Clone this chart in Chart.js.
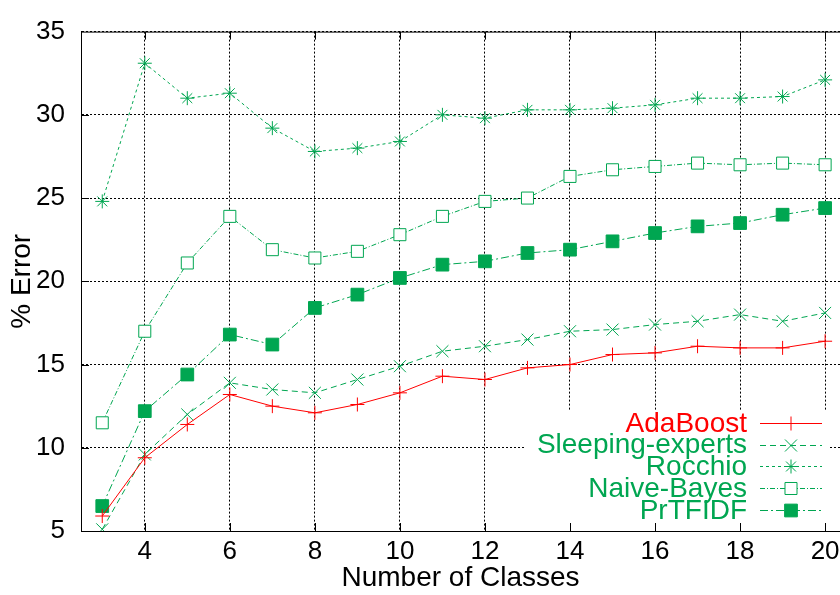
<!DOCTYPE html>
<html>
<head>
<meta charset="utf-8">
<script src="https://cdn.jsdelivr.net/npm/chart.js@4/dist/chart.umd.min.js"></script>
<style>
  html, body { margin: 0; padding: 0; background: #fff; }
  #wrap { position: relative; width: 840px; height: 595px; }
</style>
</head>
<body>
<div id="wrap"><canvas id="chart" width="840" height="595"></canvas></div>
<script>
// number of classes on the x axis
const classes = [3, 4, 5, 6, 7, 8, 9, 10, 11, 12, 13, 14, 15, 16, 17, 18, 19, 20];

// % error per method
const adaBoost = [5.9, 9.4, 11.4, 13.2, 12.5, 12.1, 12.6, 13.3, 14.3, 14.1, 14.8, 15.0, 15.6, 15.7, 16.1, 16.0, 16.0, 16.4];
const sleepingExperts = [5.1, 9.6, 12.0, 13.9, 13.5, 13.3, 14.1, 14.9, 15.8, 16.1, 16.5, 17.0, 17.1, 17.4, 17.6, 18.0, 17.6, 18.1];
const rocchio = [24.8, 33.1, 31.0, 31.3, 29.2, 27.8, 28.0, 28.4, 30.0, 29.8, 30.3, 30.3, 30.4, 30.6, 31.0, 31.0, 31.1, 32.1];
const naiveBayes = [11.5, 17.0, 21.1, 23.9, 21.9, 21.4, 21.8, 22.8, 23.9, 24.8, 25.0, 26.3, 26.7, 26.9, 27.1, 27.0, 27.1, 27.0];
const prTfidf = [6.5, 12.2, 14.4, 16.8, 16.2, 18.4, 19.2, 20.2, 21.0, 21.2, 21.7, 21.9, 22.4, 22.9, 23.3, 23.5, 24.0, 24.4];

const xTicks = [4, 6, 8, 10, 12, 14, 16, 18, 20];
const yTicks = [5, 10, 15, 20, 25, 30, 35];

const RED = '#ff0000';
const GREEN = 'rgb(0,166,81)';
const FONT = '"Liberation Sans", Arial, Helvetica, sans-serif';

const series = [
  { label: 'AdaBoost', data: adaBoost, color: RED, dash: [], style: 'cross', r: 7, fill: false },
  { label: 'Sleeping-experts', data: sleepingExperts, color: GREEN, dash: [6, 4], style: 'crossRot', r: 8.5, fill: false },
  { label: 'Rocchio', data: rocchio, color: GREEN, dash: [3, 3], style: 'star', r: 7, fill: false },
  { label: 'Naive-Bayes', data: naiveBayes, color: GREEN, dash: [5, 2, 1, 2], style: 'rect', r: 8.5, fill: false },
  { label: 'PrTFIDF', data: prTfidf, color: GREEN, dash: [8, 3, 2, 3], style: 'rect', r: 9, fill: true }
];

const datasets = series.map(s => ({
  label: s.label,
  data: classes.map((c, i) => ({ x: c, y: s.data[i] })),
  borderColor: s.color,
  borderWidth: 1,
  borderDash: s.dash,
  pointStyle: s.style,
  pointRadius: s.r,
  pointHoverRadius: s.r,
  pointBorderColor: s.color,
  pointBorderWidth: 1,
  pointBackgroundColor: s.fill ? s.color : '#fff',
  tension: 0
}));

function drawMarker(ctx, s, x, y) {
  ctx.save();
  ctx.setLineDash([]);
  ctx.strokeStyle = s.color;
  ctx.fillStyle = s.fill ? s.color : '#fff';
  ctx.lineWidth = 1;
  ctx.beginPath();
  if (s.style === 'rect') {
    const h = s.r * Math.SQRT1_2;
    ctx.rect(x - h, y - h, 2 * h, 2 * h);
    ctx.fill();
  } else {
    if (s.style === 'cross' || s.style === 'star') {
      ctx.moveTo(x - s.r, y); ctx.lineTo(x + s.r, y);
      ctx.moveTo(x, y - s.r); ctx.lineTo(x, y + s.r);
    }
    if (s.style === 'crossRot' || s.style === 'star') {
      const d = s.r * Math.SQRT1_2;
      ctx.moveTo(x - d, y - d); ctx.lineTo(x + d, y + d);
      ctx.moveTo(x - d, y + d); ctx.lineTo(x + d, y - d);
    }
  }
  ctx.stroke();
  ctx.restore();
}

// gnuplot-like frame: top border, inward tick marks, legend box
const framePlugin = {
  id: 'frame',
  beforeDatasetsDraw(chart) {
    const ctx = chart.ctx;
    ctx.save();
    ctx.fillStyle = '#fff';
    ctx.fillRect(524, 411, 305, 119);
    ctx.restore();
  },
  afterDraw(chart) {
    const { ctx, chartArea: a, scales: { x, y } } = chart;
    ctx.save();
    ctx.strokeStyle = '#000';
    ctx.lineWidth = 1;
    ctx.beginPath();
    ctx.moveTo(a.left, a.top + 0.5);
    ctx.lineTo(a.right, a.top + 0.5);
    xTicks.forEach(v => {
      const px = Math.round(x.getPixelForValue(v)) + 0.5;
      ctx.moveTo(px, a.bottom); ctx.lineTo(px, a.bottom - 8);
      ctx.moveTo(px, a.top); ctx.lineTo(px, a.top + 8);
    });
    yTicks.slice(1, -1).forEach(v => {
      const py = Math.round(y.getPixelForValue(v)) + 0.5;
      ctx.moveTo(a.left, py); ctx.lineTo(a.left + 8, py);
    });
    ctx.stroke();

    // legend
    ctx.font = '28px ' + FONT;
    ctx.textAlign = 'right';
    ctx.textBaseline = 'middle';
    series.forEach((s, i) => {
      const ry = 423 + i * 21.7;
      ctx.fillStyle = s.color;
      ctx.fillText(s.label, 747, ry + 1);
      ctx.strokeStyle = s.color;
      ctx.setLineDash(s.dash);
      ctx.beginPath();
      ctx.moveTo(760, Math.round(ry) + 0.5);
      ctx.lineTo(822, Math.round(ry) + 0.5);
      ctx.stroke();
      drawMarker(ctx, s, 791, Math.round(ry) + 0.5);
    });
    ctx.restore();
  }
};

new Chart(document.getElementById('chart'), {
  type: 'line',
  data: { datasets },
  options: {
    responsive: false,
    animation: false,
    layout: { autoPadding: false, padding: { top: 22, left: 0, right: 0, bottom: 0 } },
    plugins: { legend: { display: false }, tooltip: { enabled: false } },
    scales: {
      x: {
        type: 'linear',
        min: 2.5,
        max: 20.35,
        afterBuildTicks: scale => { scale.ticks = xTicks.map(v => ({ value: v })); },
        afterFit: scale => { scale.height = 64; scale.paddingLeft = 0; scale.paddingRight = 0; },
        grid: { color: '#000', lineWidth: 1, drawTicks: false },
        border: { display: true, color: '#000', width: 1, dash: [2, 2] },
        ticks: { color: '#000', padding: 5, maxRotation: 0, font: { family: FONT, size: 26 } },
        title: {
          display: true,
          text: 'Number of Classes',
          color: '#000',
          padding: { top: 0, bottom: 3 },
          font: { family: FONT, size: 28, lineHeight: 1 }
        }
      },
      y: {
        min: 5,
        max: 35,
        afterBuildTicks: scale => { scale.ticks = yTicks.map(v => ({ value: v })); },
        afterFit: scale => { scale.width = 81; },
        grid: { color: '#000', lineWidth: 1, drawTicks: false },
        border: { display: true, color: '#000', width: 1, dash: [2, 2] },
        ticks: { color: '#000', padding: 16, font: { family: FONT, size: 26 } },
        title: {
          display: true,
          text: '% Error',
          color: '#000',
          padding: { top: 8, bottom: 0 },
          font: { family: FONT, size: 28, lineHeight: 1 }
        }
      }
    }
  },
  plugins: [framePlugin]
});
</script>
</body>
</html>
